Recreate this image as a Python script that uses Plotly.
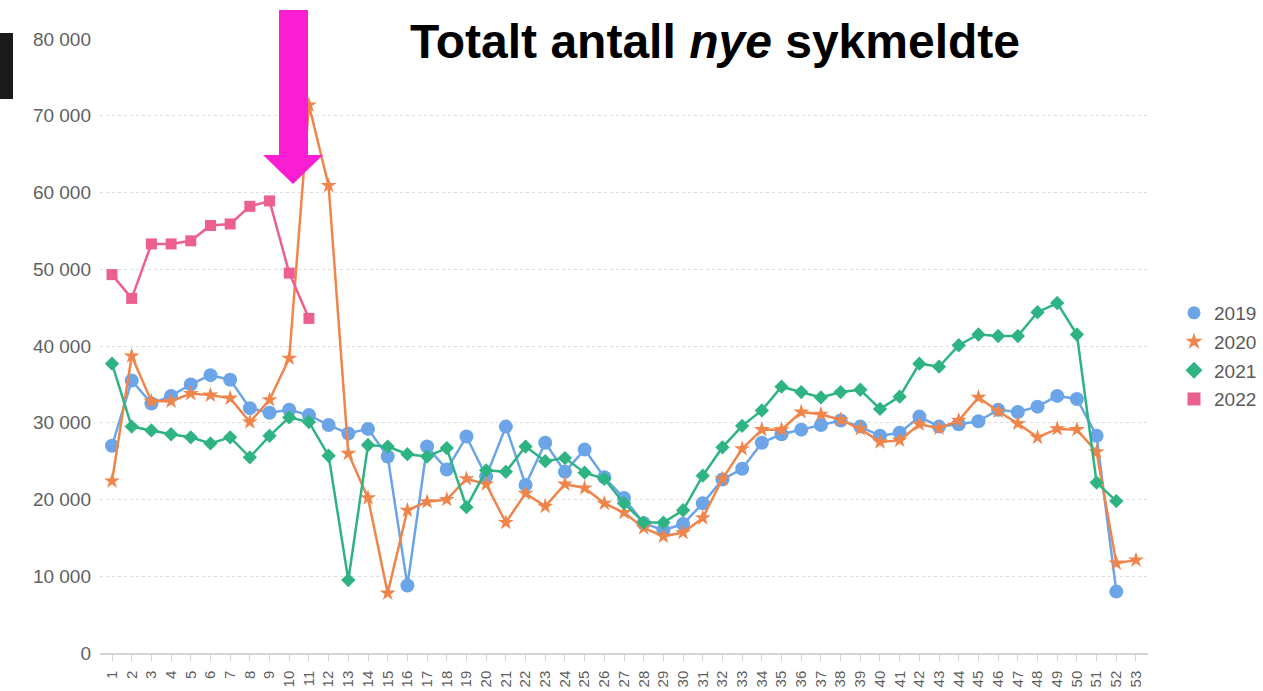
import plotly.graph_objects as go

weeks = list(range(1, 54))
week_labels = [str(w) for w in weeks]

y2019 = [27000, 35500, 32500, 33500, 35000, 36200, 35600, 31900, 31300, 31700,
         31000, 29700, 28600, 29200, 25600, 8800, 26900, 23900, 28200, 23000,
         29500, 21900, 27400, 23600, 26500, 22900, 20200, 16900, 16000, 16800,
         19500, 22600, 24000, 27400, 28500, 29100, 29700, 30300, 29500, 28300,
         28700, 30800, 29500, 29800, 30200, 31700, 31400, 32100, 33500, 33100,
         28300, 8000]
y2020 = [22400, 38700, 32800, 32800, 33800, 33600, 33200, 30100, 33000, 38400,
         71400, 60900, 26000, 20200, 7800, 18600, 19700, 20000, 22700, 22000,
         17000, 20800, 19100, 22000, 21500, 19500, 18300, 16300, 15200, 15700,
         17600, 22700, 26600, 29100, 29100, 31400, 31100, 30400, 29200, 27500,
         27700, 29800, 29300, 30300, 33300, 31500, 29900, 28100, 29200, 29100,
         26200, 11700, 12100]
y2021 = [37700, 29500, 29000, 28500, 28100, 27300, 28100, 25500, 28300, 30700,
         30100, 25700, 9500, 27100, 26900, 25900, 25600, 26700, 19000, 23800,
         23600, 26900, 25000, 25400, 23500, 22700, 19500, 17000, 17000, 18600,
         23100, 26800, 29600, 31600, 34700, 34000, 33300, 34000, 34300, 31800,
         33400, 37700, 37300, 40100, 41500, 41300, 41300, 44400, 45600, 41500,
         22200, 19800]
y2022 = [49300, 46200, 53300, 53300, 53700, 55700, 55900, 58200, 58900, 49500,
         43600]

y_ticks = [0, 10000, 20000, 30000, 40000, 50000, 60000, 70000, 80000]
y_tick_labels = ["0", "10 000", "20 000", "30 000", "40 000", "50 000",
                 "60 000", "70 000", "80 000"]

series = [
    ("2019", y2019, "#6BA5E7", "circle", 14),
    ("2020", y2020, "#F0854B", "star", 12),
    ("2021", y2021, "#2EB482", "diamond", 11),
    ("2022", y2022, "#EC5F91", "square", 11),
]

fig = go.Figure()
for name, vals, col, sym, sz in series:
    fig.add_trace(go.Scatter(
        x=weeks[:len(vals)], y=vals, name=name, mode="lines+markers",
        line=dict(color=col, width=2.5), showlegend=False, legendgroup=name,
        marker=dict(color=col, symbol=sym, size=sz, line=dict(width=0)),
    ))
# marker-only legend entries
for name, vals, col, sym, sz in series:
    fig.add_trace(go.Scatter(
        x=[None], y=[None], name=name, mode="markers", legendgroup=name,
        marker=dict(color=col, symbol=sym, size=13, line=dict(width=0)),
    ))

# pixel -> paper helpers (plot area: x 100..1148, y 39..653)
L, R, T, B = 100, 1148, 39, 653
def px(x):
    return (x - L) / (R - L)
def py(y):
    return (B - y) / (B - T)

shapes = [
    dict(type="rect", xref="paper", yref="paper", x0=px(333), x1=px(1095),
         y0=py(72), y1=py(0), fillcolor="white", line=dict(width=0), layer="above"),
    dict(type="rect", xref="paper", yref="paper", x0=px(0), x1=px(13),
         y0=py(99), y1=py(33), fillcolor="#1a1a1a", line=dict(width=0), layer="above"),
    dict(type="path", xref="paper", yref="paper",
         path=(f"M {px(279)},{py(10)} L {px(308)},{py(10)} L {px(308)},{py(155)} "
               f"L {px(323)},{py(155)} L {px(293)},{py(184)} L {px(263)},{py(155)} "
               f"L {px(279)},{py(155)} Z"),
         fillcolor="#FA1ED2", line=dict(width=0), layer="above"),
]

fig.update_layout(
    width=1263, height=691,
    margin=dict(l=L, r=1263 - R, t=T, b=691 - B, autoexpand=False),
    paper_bgcolor="white", plot_bgcolor="white",
    font=dict(family="Arial", color="#5f5f5f"),
    shapes=shapes,
    showlegend=True,
    legend=dict(x=px(1174), xanchor="left", y=py(294), yanchor="top",
                font=dict(size=19, color="#5a5a5a"), traceorder="grouped",
                tracegroupgap=1, itemwidth=30),
    annotations=[dict(
        text="<b>Totalt antall <i>nye</i> sykmeldte</b>",
        x=px(715), y=py(41), xref="paper", yref="paper",
        xanchor="center", yanchor="middle", showarrow=False,
        font=dict(family="Arial", size=48, color="black"))],
)
fig.update_xaxes(
    range=[0.39, 53.61], tickmode="array", tickvals=weeks, ticktext=week_labels,
    tickangle=-90, tickfont=dict(size=15, color="#5f5f5f"), automargin=False,
    showgrid=False, zeroline=False, showline=True, linecolor="#d4d4d4",
    linewidth=1.5, ticks="outside", ticklen=6, tickcolor="#d4d4d4",
    ticklabelstandoff=4,
)
fig.update_yaxes(
    range=[0, 80000], tickmode="array", tickvals=y_ticks, ticktext=y_tick_labels,
    tickfont=dict(size=19, color="#5f5f5f"), automargin=False,
    showgrid=True, gridcolor="#dcdcdc", griddash="dot", gridwidth=1,
    zeroline=False, showline=False, ticks="", ticklabelstandoff=8,
)

fig.write_html("out.html", config={"displayModeBar": False},
               post_script="document.body.style.margin='0';document.body.style.overflow='hidden';")
